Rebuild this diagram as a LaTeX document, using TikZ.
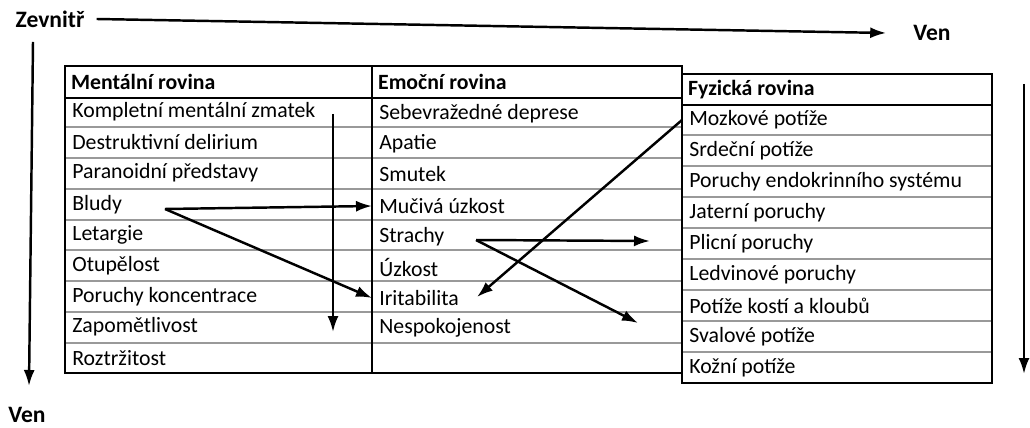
\documentclass[tikz,border=0pt]{standalone}
\usepackage{fontspec}
\setmainfont{Carlito}
\usetikzlibrary{fit,positioning,arrows.meta}

\begin{document}
\begin{tikzpicture}[x=0.02cm, y=-0.02cm,
    colbox/.style={draw, line width=1.4pt, inner sep=0pt},
    rowline/.style={draw=black!40, line width=0.6pt},
    itemtext/.style={anchor=west, inner xsep=0.14cm, inner ysep=0pt,
      font=\fontsize{12.4}{14}\selectfont},
    headtext/.style={itemtext, font=\fontsize{12.4}{14}\selectfont\bfseries},
    dirtext/.style={font=\fontsize{13.4}{15}\selectfont\bfseries},
    flow/.style={line width=1.4pt, -{Latex[length=0.32cm, width=0.22cm]}}]
    \useasboundingbox (0,0) rectangle (1030,428);

    % row separators
    \foreach \y in {127,158,189,220,250,281,312,343}
      \draw[rowline] (65,\y) -- (682,\y);
    \foreach \y in {135,166,197,228,259,290,321,352}
      \draw[rowline] (682,\y) -- (992,\y);

    \node[fit={(65,66) (372,373)}, colbox] (mental) {};
    \node[fit={(65,66) (372,98)}, colbox] (mentalHead) {};
    \node[headtext] (mentalTitle) at (mentalHead.west) {Mentální rovina};
    \node[itemtext] (kompletni) at (65,112) {Kompletní mentální zmatek};
    \node[itemtext] (delirium) at (65,142) {Destruktivní delirium};
    \node[itemtext] (paranoia) at (65,173) {Paranoidní představy};
    \node[itemtext] (bludy) at (65,205) {Bludy};
    \node[itemtext] (letargie) at (65,235) {Letargie};
    \node[itemtext] (otupelost) at (65,266) {Otupělost};
    \node[itemtext] (koncentrace) at (65,297) {Poruchy koncentrace};
    \node[itemtext] (zapomnet) at (65,327) {Zapomětlivost};
    \node[itemtext] (roztrzitost) at (65,358) {Roztržitost};

    \node[fit={(372,66) (682,373)}, colbox] (emocni) {};
    \node[fit={(372,66) (682,98)}, colbox] (emocniHead) {};
    \node[headtext] (emocniTitle) at (emocniHead.west) {Emoční rovina};
    \node[itemtext] (deprese) at (372,114) {Sebevražedné deprese};
    \node[itemtext] (apatie) at (372,144) {Apatie};
    \node[itemtext] (smutek) at (372,174) {Smutek};
    \node[itemtext] (mucive) at (372,206) {Mučivá úzkost};
    \node[itemtext] (strachy) at (372,237) {Strachy};
    \node[itemtext] (uzkost) at (372,267) {Úzkost};
    \node[itemtext] (irit) at (372,298) {Iritabilita};
    \node[itemtext] (nespokoj) at (372,328) {Nespokojenost};

    \node[fit={(682,74) (992,383)}, colbox] (fyzicka) {};
    \node[fit={(682,74) (992,105)}, colbox] (fyzickaHead) {};
    \node[headtext] (fyzickaTitle) at (fyzickaHead.west) {Fyzická rovina};
    \node[itemtext] (mozek) at (682,120) {Mozkové potíže};
    \node[itemtext] (srdce) at (682,151) {Srdeční potíže};
    \node[itemtext] (endokrin) at (682,182) {Poruchy endokrinního systému};
    \node[itemtext] (jatra) at (682,213) {Jaterní poruchy};
    \node[itemtext] (plice) at (682,244) {Plicní poruchy};
    \node[itemtext] (ledviny) at (682,275) {Ledvinové poruchy};
    \node[itemtext] (kosti) at (682,306) {Potíže kostí a kloubů};
    \node[itemtext] (svaly) at (682,337) {Svalové potíže};
    \node[itemtext] (kuze) at (682,368) {Kožní potíže};

    % direction labels
    \node[dirtext] (zevnitr) at (50,19) {Zevnitř};
    \node[dirtext] (venRight) at (932,33) {Ven};
    \node[dirtext] (venDown) at (27,415) {Ven};
    \draw[flow] ([xshift=0.12cm]zevnitr.east) -- ([xshift=-0.42cm]venRight.west);
    \coordinate (innerTop) at (33,42);
    \coordinate (innerBottom) at (29,386);
    \draw[flow] (innerTop) -- (innerBottom);
    \coordinate (rightTop) at (1024,84);
    \coordinate (rightBottom) at (1024,374);
    \draw[flow] (rightTop) -- (rightBottom);

    % connections
    \coordinate (mentalTop) at (333,114);
    \coordinate (mentalBottom) at (333,332);
    \draw[flow] (mentalTop) -- (mentalBottom);
    \coordinate (bludyOut) at (165,209);
    \draw[flow] (bludyOut) -- (mucive.west);
    \draw[flow] (bludyOut) -- (irit.west);
    \coordinate (iritIn) at (477,297);
    \draw[flow] (mozek.west) -- (iritIn);
    \coordinate (strachyOut) at (476,240);
    \coordinate (pliceIn) at (650,241);
    \coordinate (svalyIn) at (638,323);
    \draw[flow] (strachyOut) -- (pliceIn);
    \draw[flow] (strachyOut) -- (svalyIn);
\end{tikzpicture}
\end{document}
